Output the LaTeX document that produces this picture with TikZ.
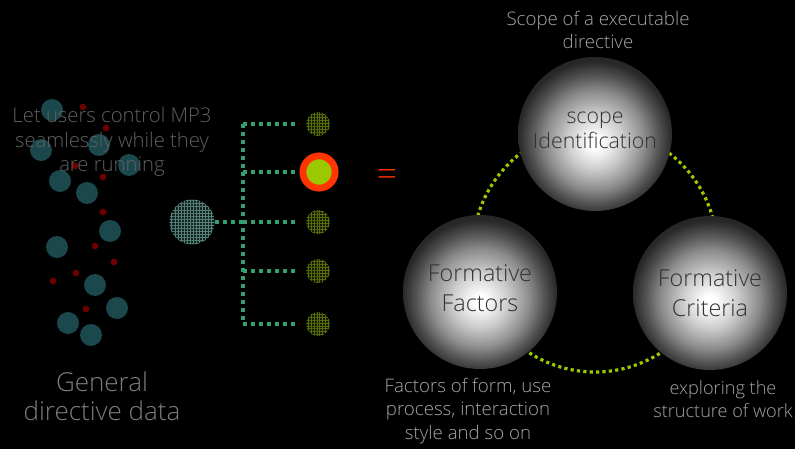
\documentclass[tikz,border=0pt]{standalone}
\usepackage{fontspec}
\setmainfont{Open Sans Light}
\usetikzlibrary{patterns.meta}

\definecolor{teal}{RGB}{27,72,76}
\definecolor{darkred}{RGB}{110,0,0}
\definecolor{linkgreen}{RGB}{52,160,112}
\definecolor{lime}{RGB}{155,200,0}
\definecolor{flame}{RGB}{255,52,0}
\definecolor{softgray}{RGB}{95,95,95}
\definecolor{labelgray}{RGB}{165,165,165}
\definecolor{inkgray}{RGB}{50,50,50}

% white-centred ball that darkens towards its rim, lit slightly from below
\pgfdeclareradialshading{sphereshade}{\pgfpoint{0bp}{-3bp}}{%
  color(0bp)=(white); color(2bp)=(white);
  color(9bp)=(black!20); color(16bp)=(black!45);
  color(21bp)=(black!68); color(25bp)=(black!84); color(50bp)=(black)}

\tikzset{
  bubble/.style={circle, fill=teal, inner sep=0pt, minimum size=16.5pt},
  speck/.style={circle, fill=darkred, inner sep=0pt, minimum size=5pt},
  hubdot/.style={circle, inner sep=0pt, minimum size=33.8pt,
    fill={rgb,255:red,22;green,34;blue,34},
    postaction={pattern={Hatch[angle=0,distance=2.3pt,line width=0.4pt]},
                pattern color={rgb,255:red,85;green,130;blue,120}}},
  leaf/.style={circle, inner sep=0pt, minimum size=18pt,
    fill={rgb,255:red,20;green,26;blue,0},
    postaction={pattern={Hatch[angle=0,distance=2.2pt,line width=0.4pt]},
                pattern color={rgb,255:red,88;green,108;blue,12}}},
  pick/.style={circle, inner sep=0pt, minimum size=24.2pt, fill=lime,
    draw=flame, line width=5.1pt},
  link/.style={draw=linkgreen, line width=2.8pt, dash pattern=on 3pt off 3pt},
  ball/.style={circle, inner sep=0pt, minimum size=115.5pt, shading=sphereshade},
  balltext/.style={text=inkgray, align=center},
  ring/.style={circle, inner sep=0pt, minimum size=183pt, draw=lime,
    line width=2.4pt, dash pattern=on 2.4pt off 2.4pt},
  note/.style={text=labelgray, align=center, font=\fontsize{14}{17.5}\selectfont},
}

\begin{document}
\begin{tikzpicture}[x=0.75pt, y=-0.75pt]
\useasboundingbox (0,0) rectangle (795,449);
\fill[black] (0,0) rectangle (795,449);

% scattered data points
\foreach \p [count=\i] in {(52,110),(41,150),(99,145),(129,165),(60,181),(87,193),
    (110,231),(57,247),(95,285),(117,308),(68,323),(91,335)}
  \node[bubble] (b\i) at \p {};
\foreach \p [count=\i] in {(83,107),(106,128),(75,166),(103,177),(103,212),(95,246),
    (114,262),(76,273),(53,281),(86,309)}
  \node[speck] (r\i) at \p {};

\node[text=softgray, align=center, font=\fontsize{15.2}{18.5}\selectfont]
  (intro) at (112,142) {Let users control MP3\\seamlessly while they\\are running};
\node[text={rgb,255:red,125;green,125;blue,125}, align=center,
  font=\fontsize{19.5}{22}\selectfont] (general) at (102,396) {General\\directive data};

% the tree of options
\node[hubdot] (hub) at (192,222) {};
\coordinate (j1) at (243,124);
\coordinate (j2) at (243,172);
\coordinate (j3) at (243,222);
\coordinate (j4) at (243,271);
\coordinate (j5) at (243,324);
\node[leaf] (s1) at (318,124) {};
\node[pick] (s2) at (319,172) {};
\node[leaf] (s3) at (318,222) {};
\node[leaf] (s4) at (318,271) {};
\node[leaf] (s5) at (318,324) {};

\draw[link] (hub) -- (j3);
\draw[link] (j1) -- (j5);
\foreach \i in {1,3,4,5}
  \draw[link, shorten >=7.5pt] (j\i) -- (s\i);
\draw[link, shorten >=1.5pt] (j2) -- (s2);

\node[text=flame, font=\fontsize{27}{27}\selectfont] (eq) at (387,178) {=};

% three spheres on a dotted ring
\node[ring] (loop) at (595,250) {};
\node[ball] (top) at (595,134) {};
\node[ball] (left) at (480,292) {};
\node[ball] (right) at (710,293) {};
\node[balltext, font=\fontsize{16}{19}\selectfont] (topT) at (595,130) {scope\\Identification};
\node[balltext, font=\fontsize{17.5}{22}\selectfont] (leftT) at (480,288) {Formative\\Factors};
\node[balltext, font=\fontsize{17.5}{22}\selectfont] (rightT) at (710,293) {Formative\\Criteria};

\node[note] (topnote) at (598,30) {Scope of a executable\\directive};
\node[note] (leftnote) at (468,411) {Factors of form, use\\process, interaction\\style and so on};
\node[note, font=\fontsize{13.6}{17.5}\selectfont] (rightnote) at (723,399) {exploring the\\structure of work};
\end{tikzpicture}
\end{document}
